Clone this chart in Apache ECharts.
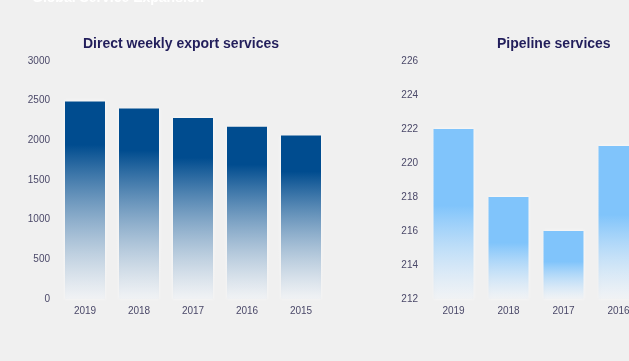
<!DOCTYPE html>
<html>
<head>
<meta charset="utf-8">
<script src="https://cdn.jsdelivr.net/npm/echarts@6/dist/echarts.min.js"></script>
<style>
html,body{margin:0;padding:0;width:629px;height:361px;overflow:hidden;background:#f0f0f0;}
#c{width:760px;height:361px;}
</style>
</head>
<body>
<div id="c"></div>
<script>
const mainTitle = 'Global Service Expansion';
const leftTitle = 'Direct weekly export services';
const rightTitle = 'Pipeline services';
const years = ['2019', '2018', '2017', '2016', '2015'];
const exportValues = [2490, 2400, 2280, 2170, 2060];
const pipelineValues = [222, 218, 216, 221, 219];

const chart = echarts.init(document.getElementById('c'));
const font = '"Liberation Sans", Arial, sans-serif';
const labelColor = '#4a4868';

function grad(c, stop) {
  return new echarts.graphic.LinearGradient(0, 0, 0, 1, [
    {offset: 0, color: c},
    {offset: stop, color: c},
    {offset: 1, color: 'rgba(236,239,243,0.6)'}
  ]);
}

const axisCommon = {
  axisLine: {show: false}, axisTick: {show: false}, splitLine: {show: false}
};
const plain = v => String(v);

chart.setOption({
  backgroundColor: '#f0f0f0',
  animation: false,
  title: [
    {text: mainTitle, left: 32, top: -9, padding: 0,
     textStyle: {color: '#ffffff', fontSize: 14, fontWeight: 'bold', fontFamily: font}},
    {text: leftTitle, left: 83, top: 37, padding: 0,
     textStyle: {color: '#221e5b', fontSize: 14, fontWeight: 'bold', fontFamily: font}},
    {text: rightTitle, left: 497, top: 37, padding: 0,
     textStyle: {color: '#221e5b', fontSize: 14, fontWeight: 'bold', fontFamily: font}}
  ],
  grid: [
    {left: 58, top: 61, width: 270, height: 238},
    {left: 426, top: 61, width: 275, height: 238}
  ],
  xAxis: [
    Object.assign({type: 'category', gridIndex: 0, data: years,
      axisLabel: {color: labelColor, fontSize: 10, fontFamily: font, margin: 7}}, axisCommon),
    Object.assign({type: 'category', gridIndex: 1, data: years,
      axisLabel: {color: labelColor, fontSize: 10, fontFamily: font, margin: 7}}, axisCommon)
  ],
  yAxis: [
    Object.assign({type: 'value', gridIndex: 0, min: 0, max: 3000, interval: 500,
      axisLabel: {color: labelColor, fontSize: 10, fontFamily: font, margin: 8, formatter: plain}}, axisCommon),
    Object.assign({type: 'value', gridIndex: 1, min: 212, max: 226, interval: 2,
      axisLabel: {color: labelColor, fontSize: 10, fontFamily: font, margin: 8, formatter: plain}}, axisCommon)
  ],
  series: [
    {type: 'bar', xAxisIndex: 0, yAxisIndex: 0, data: exportValues, barWidth: 40,
     itemStyle: {color: grad('#004c8f', 0.22), shadowColor: 'rgba(255,255,255,0.9)', shadowBlur: 3}},
    {type: 'bar', xAxisIndex: 1, yAxisIndex: 1, data: pipelineValues, barWidth: 40,
     itemStyle: {color: grad('#80c4fb', 0.45), shadowColor: 'rgba(255,255,255,0.9)', shadowBlur: 3}}
  ]
});
</script>
</body>
</html>
